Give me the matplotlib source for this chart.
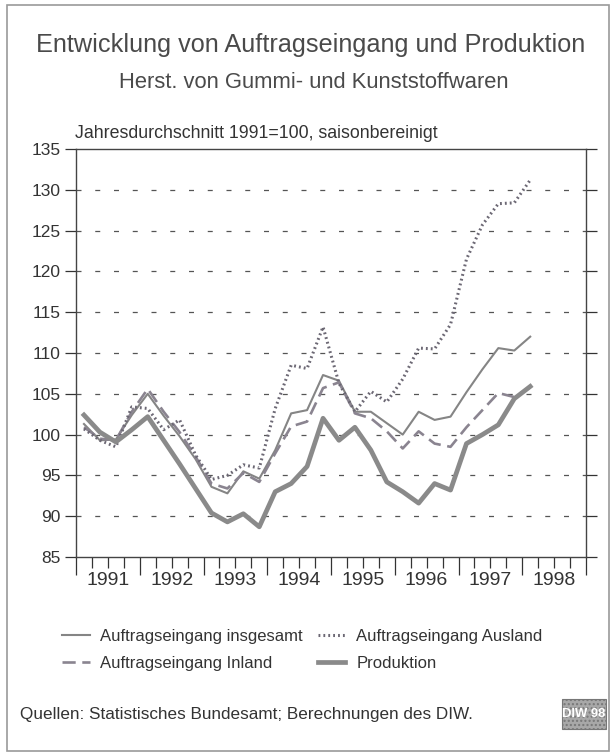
import matplotlib
matplotlib.use("Agg")
import matplotlib.pyplot as plt
from matplotlib.patches import Rectangle

plt.rcParams['font.family'] = ['Liberation Sans', 'DejaVu Sans']

# quarterly values, Q1 1991 .. Q1 1998 (1991 = 100, seasonally adjusted)
years = [1991, 1992, 1993, 1994, 1995, 1996, 1997, 1998]
insgesamt = [101.3, 99.3, 99.4, 102.4, 105.0, 102.3, 99.8, 97.0,
             93.6, 92.8, 95.5, 94.6, 98.1, 102.6, 103.0, 107.3,
             106.6, 102.8, 102.8, 101.4, 100.0, 102.8, 101.8, 102.2,
             105.2, 108.0, 110.6, 110.3, 112.0]
ausland = [100.7, 99.3, 98.5, 103.4, 103.2, 100.6, 101.8, 97.5,
           94.5, 95.0, 96.3, 95.9, 103.2, 108.5, 108.1, 113.2,
           106.3, 102.8, 105.3, 104.0, 106.8, 110.6, 110.5, 113.5,
           121.5, 125.7, 128.3, 128.4, 131.2]
inland = [100.9, 99.5, 99.3, 102.8, 105.6, 102.8, 100.3, 97.3,
          94.0, 93.4, 95.3, 94.2, 97.7, 101.0, 101.6, 105.7,
          106.4, 102.6, 102.0, 100.4, 98.3, 100.4, 98.9, 98.5,
          100.9, 103.0, 105.1, 104.6, 105.8]
produktion = [102.4, 100.3, 99.1, 100.6, 102.2, 99.3, 96.4, 93.4,
              90.4, 89.3, 90.3, 88.7, 93.0, 94.0, 96.1, 102.0,
              99.3, 100.9, 98.1, 94.2, 93.0, 91.6, 94.0, 93.2,
              98.9, 100.0, 101.2, 104.4, 105.9]
yticks = [85, 90, 95, 100, 105, 110, 115, 120, 125, 130, 135]

x = [1991 + (k + 0.5) / 4 for k in range(len(produktion))]

W, H = 611, 756
fig = plt.figure(figsize=(W / 100, H / 100), dpi=100)
fig.patch.set_facecolor('white')

def fx(px):
    return px / W

def fy(py):
    return 1 - py / H

# outer frame
fig.add_artist(Rectangle((fx(7), fy(751)), fx(602), 746 / H, transform=fig.transFigure,
                         fill=False, edgecolor='#9a9a9a', linewidth=1.2))

ax = fig.add_axes([fx(76), fy(557), fx(510), (557 - 149) / H])
ax.set_xlim(1991, 1999)
ax.set_ylim(85, 135)

ax.plot(x, insgesamt, color='#858585', lw=1.5, label='Auftragseingang insgesamt', zorder=3)
ax.plot(x, inland, color='#8a8490', lw=1.9, dashes=(5, 2.5), label='Auftragseingang Inland', zorder=3)
ax.plot(x, ausland, color='#6c6874', lw=2.2, linestyle=(0, (0.6, 1.0)), label='Auftragseingang Ausland', zorder=3)
ax.plot(x, produktion, color='#8a8a8a', lw=3.4, label='Produktion', zorder=4)

# dashed grid lines
for v in yticks[1:-1]:
    ax.axhline(v, color='#555555', lw=0.9, dashes=(4, 11), zorder=1)

ax.set_yticks(yticks)
ax.tick_params(axis='y', which='major', direction='out', length=8, width=0.9,
               labelsize=12.5, pad=3, colors='#333333')
ax.tick_params(axis='y', which='major', right=True, labelright=False)

quarters = [1991 + q / 4 for q in range(33) if q % 4 != 0]
qlabels = [str(int(q)) if abs(q - int(q) - 0.5) < 1e-6 else '' for q in quarters]
ax.set_xticks([float(y) for y in years] + [1999.0])
ax.set_xticklabels([])
ax.set_xticks(quarters, labels=qlabels, minor=True)
ax.tick_params(axis='x', which='major', direction='out', length=13, width=0.9, colors='#333333')
ax.tick_params(axis='x', which='minor', direction='out', length=8, width=0.9,
               labelsize=14, pad=3, colors='#333333')

for s in ax.spines.values():
    s.set_color('#444444')
    s.set_linewidth(1.0)

# texts
fig.text(fx(311), fy(45), 'Entwicklung von Auftragseingang und Produktion',
         ha='center', va='center', fontsize=18.2, color='#4a4a4a')
fig.text(fx(314), fy(82), 'Herst. von Gummi- und Kunststoffwaren',
         ha='center', va='center', fontsize=15.8, color='#4a4a4a')
fig.text(fx(75), fy(133), 'Jahresdurchschnitt 1991=100, saisonbereinigt',
         ha='left', va='center', fontsize=12.8, color='#333333')

handles, labels = ax.get_legend_handles_labels()
fig.legend(handles, labels,
           ncol=2, loc='upper left', bbox_to_anchor=(fx(47), fy(614)),
           frameon=False, fontsize=12, handlelength=1.65, handletextpad=0.65,
           columnspacing=0.9, labelspacing=0.72, labelcolor='#333333')

fig.text(fx(20), fy(714), 'Quellen: Statistisches Bundesamt; Berechnungen des DIW.',
         ha='left', va='center', fontsize=12.3, color='#333333')

fig.add_artist(Rectangle((fx(562), fy(729)), fx(44), 30 / H, transform=fig.transFigure,
                         facecolor='#a8a8a8', edgecolor='#777777', linewidth=0.8, hatch='....'))
fig.text(fx(584), fy(714), 'DIW 98', ha='center', va='center', fontsize=9.4,
         color='white', fontweight='bold')

fig.savefig('out.png', dpi=100)
